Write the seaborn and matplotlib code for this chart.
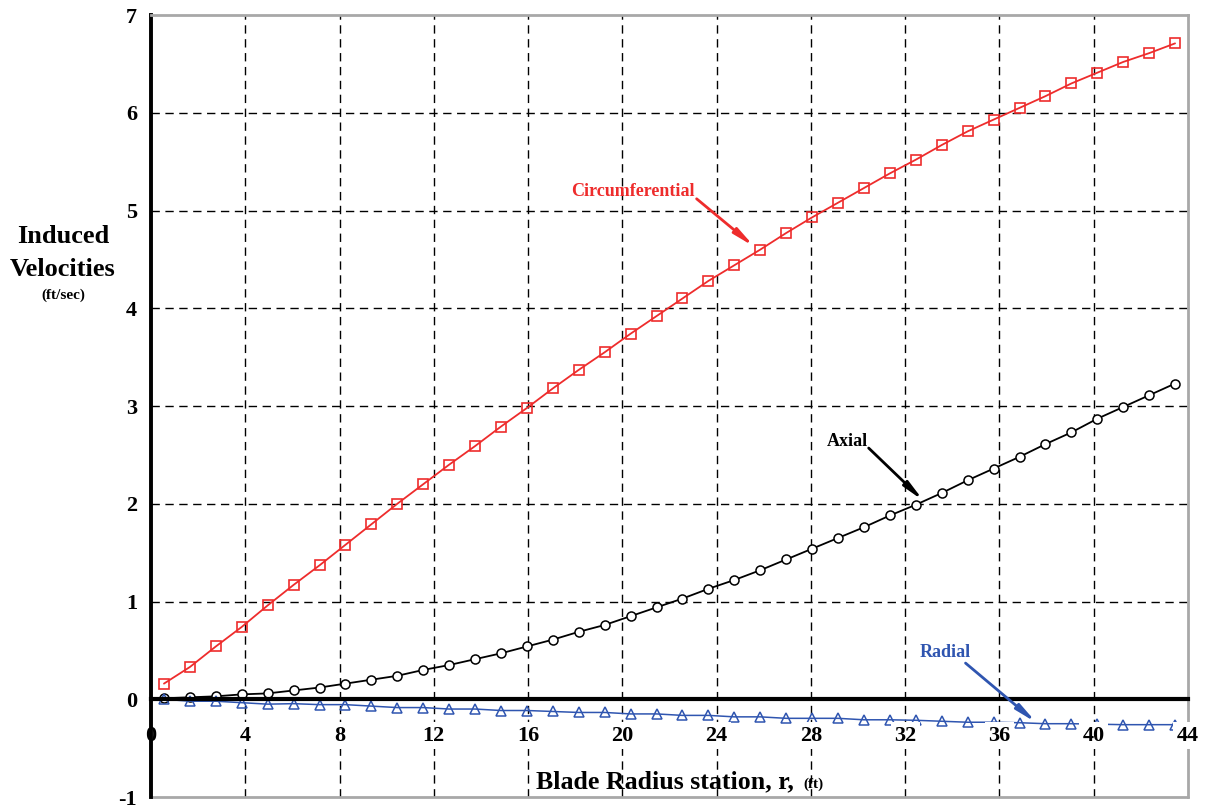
import matplotlib
matplotlib.use("Agg")
import matplotlib.pyplot as plt
import seaborn as sns

# Blade radius stations (ft) and induced velocity components (ft/sec)
radius_ft = [0.55, 1.65, 2.75, 3.85, 4.95, 6.05, 7.15, 8.25, 9.35, 10.45,
             11.55, 12.65, 13.75, 14.85, 15.95, 17.05, 18.15, 19.25, 20.35, 21.45,
             22.55, 23.65, 24.75, 25.85, 26.95, 28.05, 29.15, 30.25, 31.35, 32.45,
             33.55, 34.65, 35.75, 36.85, 37.95, 39.05, 40.15, 41.25, 42.35, 43.45]

circumferential = [0.16, 0.33, 0.54, 0.74, 0.96, 1.17, 1.37, 1.58, 1.79, 2.00,
                   2.20, 2.40, 2.59, 2.79, 2.98, 3.18, 3.37, 3.55, 3.74, 3.92,
                   4.10, 4.28, 4.44, 4.60, 4.77, 4.93, 5.08, 5.23, 5.38, 5.52,
                   5.67, 5.81, 5.93, 6.05, 6.17, 6.30, 6.41, 6.52, 6.61, 6.71]

axial = [0.01, 0.02, 0.03, 0.05, 0.06, 0.09, 0.12, 0.16, 0.20, 0.24,
         0.30, 0.35, 0.41, 0.47, 0.54, 0.61, 0.69, 0.76, 0.85, 0.94,
         1.03, 1.13, 1.22, 1.32, 1.43, 1.54, 1.65, 1.76, 1.88, 1.99,
         2.11, 2.24, 2.36, 2.48, 2.61, 2.73, 2.87, 2.99, 3.11, 3.23]

radial = [0.00, -0.02, -0.02, -0.035, -0.05, -0.045, -0.055, -0.055, -0.07, -0.085,
          -0.085, -0.10, -0.10, -0.115, -0.115, -0.125, -0.135, -0.135, -0.15, -0.15,
          -0.165, -0.165, -0.18, -0.18, -0.195, -0.195, -0.195, -0.21, -0.21, -0.215,
          -0.225, -0.235, -0.235, -0.24, -0.25, -0.25, -0.255, -0.26, -0.26, -0.26]

x_ticks = [0, 4, 8, 12, 16, 20, 24, 28, 32, 36, 40, 44]
y_ticks = [-1, 0, 1, 2, 3, 4, 5, 6, 7]

RED = "#EE2C2C"
BLUE = "#2F55B0"
GRAY = "#A8A8A8"

sns.set_theme(style="white")
plt.rcParams["font.family"] = ["Liberation Serif", "DejaVu Serif"]
plt.rcParams["font.weight"] = "bold"
plt.rcParams["text.color"] = "black"
plt.rcParams["xtick.color"] = "black"
plt.rcParams["ytick.color"] = "black"

fig = plt.figure(figsize=(12.06, 8.08), dpi=100)
ax = fig.add_axes([0.1252, 0.0136, 0.8599, 0.9678])

# dashed interior grid
for xv in x_ticks[1:-1]:
    ax.axvline(xv, color="black", lw=1.0, ls=(0, (6, 4)), zorder=1)
for yv in y_ticks:
    if yv not in (-1, 0, 7):
        ax.axhline(yv, color="black", lw=1.0, ls=(0, (6, 4)), zorder=1)

# series sit below the axis layer so the white tick-label boxes cover them
sns.lineplot(x=radius_ft, y=circumferential, ax=ax, color=RED, lw=1.3,
             marker="s", markersize=6.5, markerfacecolor="none",
             markeredgecolor=RED, markeredgewidth=1.2, errorbar=None, zorder=2)
sns.lineplot(x=radius_ft, y=axial, ax=ax, color="black", lw=1.3,
             marker="o", markersize=6.5, markerfacecolor="white",
             markeredgecolor="black", markeredgewidth=1.1, errorbar=None, zorder=2)
sns.lineplot(x=radius_ft, y=radial, ax=ax, color=BLUE, lw=1.1,
             marker="^", markersize=7, markerfacecolor="none",
             markeredgecolor=BLUE, markeredgewidth=1.1, errorbar=None, zorder=2)

ax.set_xlim(0, 44)
ax.set_ylim(-1, 7)
ax.set_xticks(x_ticks)
ax.set_yticks(y_ticks)
ax.set_xticklabels([str(v) for v in x_ticks])
ax.set_yticklabels([str(v) for v in y_ticks])
ax.set_xlabel("")
ax.set_ylabel("")
ax.set_axisbelow(False)

# x axis rides on the zero line; outer frame in gray
ax.spines["bottom"].set_position(("data", 0))
ax.spines["bottom"].set_color("black")
ax.spines["bottom"].set_linewidth(3)
ax.spines["left"].set_color("black")
ax.spines["left"].set_linewidth(2.8)
for side in ("top", "right"):
    ax.spines[side].set_color(GRAY)
    ax.spines[side].set_linewidth(2)
ax.axhline(-1, color=GRAY, lw=2, clip_on=False, zorder=2.4)

ax.tick_params(axis="x", direction="in", length=8, width=2.2, colors="black",
               labelsize=16, pad=19)
ax.tick_params(axis="y", direction="in", length=7, width=2.2, colors="black",
               labelsize=16, pad=10)
for i, lbl in enumerate(ax.get_xticklabels()):
    lbl.set_fontweight("bold")
    lbl.set_color("black")
    if i > 0:
        lbl.set_bbox(dict(facecolor="white", edgecolor="none", pad=2.5))
for lbl in ax.get_yticklabels():
    lbl.set_fontweight("bold")
    lbl.set_color("black")

# series labels with pointer arrows
arrow_style = "-|>,head_length=1.0,head_width=0.16"
ax.text(20.46, 5.19, "Circumferential", color=RED, fontsize=13,
        fontweight="bold", ha="center", va="center")
ax.annotate("", xy=(25.6, 4.63), xytext=(23.15, 5.12),
            arrowprops=dict(arrowstyle=arrow_style, color=RED, lw=2,
                            mutation_scale=12, shrinkA=0, shrinkB=0))
ax.text(29.54, 2.64, "Axial", color="black", fontsize=13,
        fontweight="bold", ha="center", va="center")
ax.annotate("", xy=(32.78, 2.03), xytext=(30.45, 2.57),
            arrowprops=dict(arrowstyle=arrow_style, color="black", lw=2,
                            mutation_scale=12, shrinkA=0, shrinkB=0))
ax.text(33.69, 0.48, "Radial", color=BLUE, fontsize=13,
        fontweight="bold", ha="center", va="center")
ax.annotate("", xy=(37.57, -0.24), xytext=(34.56, 0.37),
            arrowprops=dict(arrowstyle=arrow_style, color=BLUE, lw=2,
                            mutation_scale=12, shrinkA=0, shrinkB=0))

# axis titles
fig.text(63 / 1206, 1 - 243 / 808, "Induced", fontsize=19, fontweight="bold",
         ha="center", va="baseline", color="black")
fig.text(63 / 1206, 1 - 276 / 808, "Velocities", fontsize=19, fontweight="bold",
         ha="center", va="baseline", color="black")
fig.text(63 / 1206, 1 - 299 / 808, "(ft/sec)", fontsize=11, fontweight="bold",
         ha="center", va="baseline", color="black")
fig.text(536 / 1206, 1 - 788 / 808, "Blade Radius station, r,", fontsize=18.6,
         fontweight="bold", ha="left", va="baseline", color="black")
fig.text(803 / 1206, 1 - 788 / 808, "(ft)", fontsize=11,
         fontweight="bold", ha="left", va="baseline", color="black")

fig.savefig("out.png", dpi=100, facecolor="white")
